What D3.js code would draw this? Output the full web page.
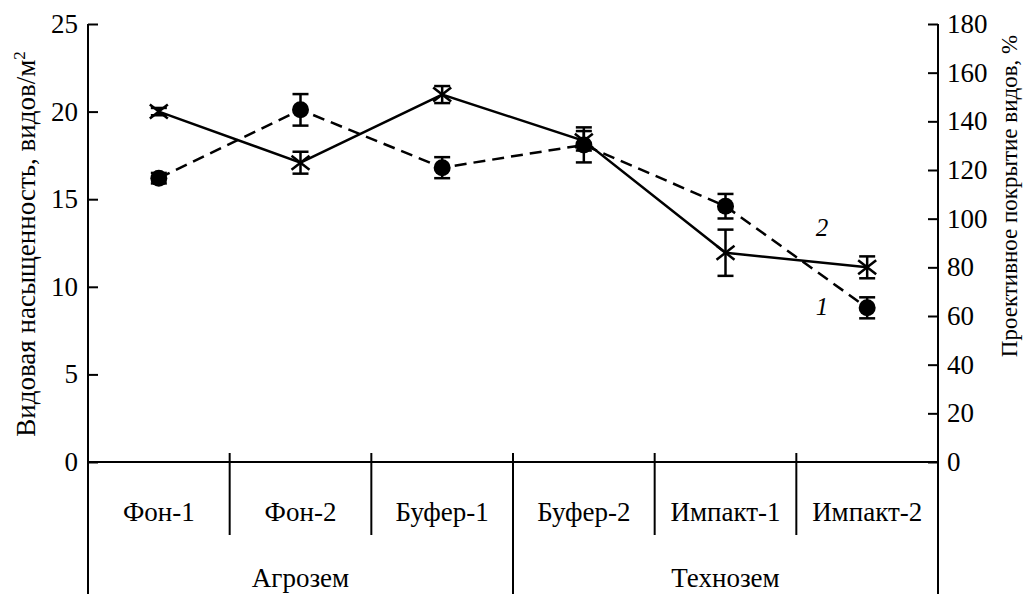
<!DOCTYPE html>
<html>
<head>
<meta charset="utf-8">
<script src="https://cdn.jsdelivr.net/npm/d3@7"></script>
</head>
<body style="margin:0">
<script>
const W = 1024, H = 594;
const categories = ["Фон-1", "Фон-2", "Буфер-1", "Буфер-2", "Импакт-1", "Импакт-2"];
const groups = ["Агрозем", "Технозем"];
const groupSize = [3, 3];
// 1 - species per m2 (left axis), dashed line with circles
const richness = [16.2, 20.1, 16.8, 18.1, 14.6, 8.8];
const richnessErr = [0.3, 0.9, 0.6, 1.0, 0.7, 0.6];
// 2 - projective cover, % (right axis), solid line with crosses
const cover = [144, 123, 151, 132, 86, 80];
const coverErr = [1.5, 4.5, 3.5, 4, 9.5, 4.5];
const leftTicks = [0, 5, 10, 15, 20, 25];
const rightTicks = [0, 20, 40, 60, 80, 100, 120, 140, 160, 180];

const FONT = "'Liberation Serif'";
const FS = 27;

var svg = d3.select("body").append("svg")
    .attr("width", W)
    .attr("height", H);

var x0 = 88, x1 = 938, yTop = 24, yBase = 462;

var x = d3.scaleBand().domain(categories).range([x0, x1]);
var yL = d3.scaleLinear().domain([0, 25]).range([yBase, yTop]);
var yR = d3.scaleLinear().domain([0, 180]).range([yBase, yTop]);

// axes, ticks pointing inward
svg.append("g").attr("transform", `translate(${x0},0)`)
    .call(d3.axisRight(yL).tickValues(leftTicks).tickSize(10).tickFormat(""));
svg.append("g").attr("transform", `translate(${x1},0)`)
    .call(d3.axisLeft(yR).tickValues(rightTicks).tickSize(10).tickFormat(""));
svg.selectAll(".domain").remove();
svg.selectAll(".tick line").attr("stroke", "#000").attr("stroke-width", 2);

svg.selectAll(".lt").data(leftTicks).enter().append("text")
    .attr("font-family", FONT).attr("font-size", FS)
    .attr("x", x0 - 10).attr("y", d => yL(d) + 9)
    .attr("text-anchor", "end").text(d => d);
svg.selectAll(".rt").data(rightTicks).enter().append("text")
    .attr("font-family", FONT).attr("font-size", FS)
    .attr("x", x1 + 9).attr("y", d => yR(d) + 9)
    .attr("text-anchor", "start").text(d => d);

// frame lines
var frame = svg.append("g").attr("stroke", "#000").attr("stroke-width", 2);
frame.append("line").attr("x1", x0).attr("x2", x0).attr("y1", yTop).attr("y2", H);
frame.append("line").attr("x1", x1).attr("x2", x1).attr("y1", yTop).attr("y2", H);
frame.append("line").attr("x1", x0).attr("x2", x1).attr("y1", yBase).attr("y2", yBase);

// category separators
var bounds = d3.range(1, categories.length).map(i => x(categories[i]));
var groupEnds = d3.cumsum(groupSize).slice(0, -1).map(n => x(categories[n]));
frame.selectAll(".sep").data(bounds).enter().append("line")
    .attr("x1", d => d).attr("x2", d => d)
    .attr("y1", yBase - 9)
    .attr("y2", d => groupEnds.includes(d) ? H : 535);

svg.selectAll(".cat").data(categories).enter().append("text")
    .attr("font-family", FONT).attr("font-size", FS)
    .attr("x", d => x(d) + x.bandwidth() / 2).attr("y", 521)
    .attr("text-anchor", "middle").text(d => d);

var groupCenters = [];
var gStart = 0;
groupSize.forEach(function(n) {
    var a = x(categories[gStart]);
    var b = x(categories[gStart + n - 1]) + x.bandwidth();
    groupCenters.push((a + b) / 2);
    gStart += n;
});
svg.selectAll(".grp").data(groups).enter().append("text")
    .attr("font-family", FONT).attr("font-size", FS)
    .attr("x", (d, i) => groupCenters[i]).attr("y", 587)
    .attr("text-anchor", "middle").text(d => d);

// axis titles
var t1 = svg.append("text")
    .attr("font-family", FONT).attr("font-size", FS)
    .attr("transform", "translate(35,244) rotate(-90)")
    .attr("text-anchor", "middle");
t1.append("tspan").text("Видовая насыщенность, видов/м");
t1.append("tspan").attr("dy", -10).attr("font-size", 17).text("2");
svg.append("text")
    .attr("font-family", FONT).attr("font-size", 23)
    .attr("transform", "translate(1017,196) rotate(-90)")
    .attr("text-anchor", "middle")
    .text("Проективное покрытие видов, %");

var cx = i => x(categories[i]) + x.bandwidth() / 2;
var line = d3.line().x(d => d[0]).y(d => d[1]);

// series 1: dashed with circles
var p1 = richness.map((v, i) => [cx(i), yL(v)]);
svg.append("path").attr("d", line(p1))
    .attr("fill", "none").attr("stroke", "#000").attr("stroke-width", 2.5)
    .attr("stroke-dasharray", "12,7");
// series 2: solid with crosses
var p2 = cover.map((v, i) => [cx(i), yR(v)]);
svg.append("path").attr("d", line(p2))
    .attr("fill", "none").attr("stroke", "#000").attr("stroke-width", 2.5);

var errorBars = function(vals, errs, scale) {
    var g = svg.append("g").attr("stroke", "#000").attr("stroke-width", 2.5);
    vals.forEach(function(v, i) {
        var c = cx(i), top = scale(v + errs[i]), bot = scale(v - errs[i]);
        g.append("line").attr("x1", c).attr("x2", c).attr("y1", top).attr("y2", bot);
        g.append("line").attr("x1", c - 8).attr("x2", c + 8).attr("y1", top).attr("y2", top);
        g.append("line").attr("x1", c - 8).attr("x2", c + 8).attr("y1", bot).attr("y2", bot);
    });
};
errorBars(richness, richnessErr, yL);
errorBars(cover, coverErr, yR);

svg.selectAll(".dot").data(p1).enter().append("circle")
    .attr("cx", d => d[0]).attr("cy", d => d[1]).attr("r", 8.5).attr("fill", "#000");

var crosses = svg.append("g").attr("stroke", "#000").attr("stroke-width", 2.5);
p2.forEach(function(d) {
    crosses.append("line").attr("x1", d[0] - 9).attr("x2", d[0] + 9).attr("y1", d[1] - 7).attr("y2", d[1] + 7);
    crosses.append("line").attr("x1", d[0] - 9).attr("x2", d[0] + 9).attr("y1", d[1] + 7).attr("y2", d[1] - 7);
});

// series labels
svg.selectAll(".num").data(["2", "1"]).enter().append("text")
    .attr("font-family", FONT).attr("font-size", 25)
    .attr("font-style", "italic")
    .attr("x", 822).attr("y", (d, i) => i === 0 ? 236 : 315)
    .attr("text-anchor", "middle").text(d => d);
</script>
</body>
</html>
